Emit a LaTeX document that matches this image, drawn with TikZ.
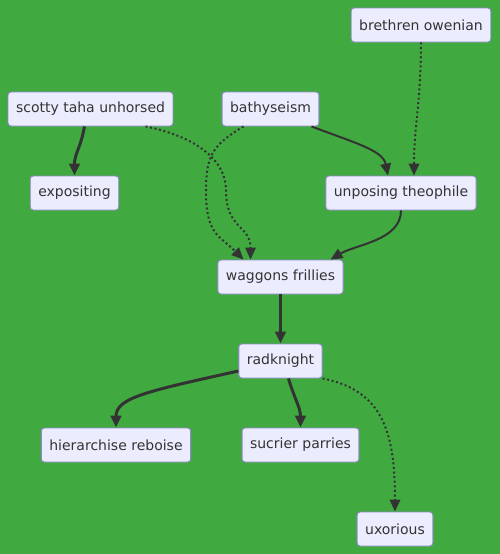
\documentclass[tikz,border=0pt]{standalone}
\usepackage{fontspec}
\setmainfont{DejaVu Sans}
\usepackage{xcolor}
\usepackage{tikz}
\usetikzlibrary{arrows.meta}
\definecolor{flowGreen}{HTML}{40AA40}
\definecolor{flowFill}{HTML}{ECECFF}
\definecolor{flowBorder}{HTML}{9287CC}
\definecolor{flowInk}{HTML}{333333}
\tikzset{
  flowbox/.style={draw=flowBorder,fill=flowFill,rounded corners=3pt,line width=0.9pt,
    inner xsep=8pt,inner ysep=0pt,minimum height=34pt,text=flowInk,
    font=\fontsize{14}{17}\selectfont},
  flowlink/.style={-{Triangle[length=12pt,width=10.5pt]},line width=2pt,draw=flowInk},
  heavylink/.style={flowlink,line width=3pt},
  dotlink/.style={flowlink,dash pattern=on 2pt off 2.6pt}
}

\begin{document}
\begin{tikzpicture}[x=1pt,y=-1pt]
    \fill[flowGreen] (0,0) rectangle (500,554);
    \useasboundingbox (0,0) rectangle (500,554);
    % top rows
    \node[flowbox] (brethren) at (421,25) {brethren owenian};
    \node[flowbox] (scotty) at (90.5,109) {scotty taha unhorsed};
    \node[flowbox] (bathy) at (270.5,109) {bathyseism};
    \node[flowbox] (expo) at (74.5,193) {expositing};
    \node[flowbox] (unposing) at (401,193) {unposing theophile};
    % middle
    \node[flowbox] (waggons) at (280.5,277) {waggons frillies};
    \node[flowbox] (radk) at (280.5,361) {radknight};
    % bottom rows
    \node[flowbox] (hier) at (116,445) {hierarchise reboise};
    \node[flowbox] (sucrier) at (300.5,445) {sucrier parries};
    \node[flowbox] (uxor) at (395,529) {uxorious};

    \draw[heavylink] ([xshift=-6pt]scotty.south) .. controls +(-4,22) and +(0,-22) .. (expo.north);
    \draw[dotlink] ([xshift=55pt]scotty.south) .. controls +(50,10) and +(0,-30) .. (226,190)
      .. controls +(0,40) and +(0,-35) .. ([xshift=-30pt]waggons.north);
    \draw[dotlink] ([xshift=-27pt]bathy.south) .. controls +(-30,18) and +(0,-35) .. (206,190)
      .. controls +(0,45) and +(-25,-25) .. ([xshift=-37pt]waggons.north);
    \draw[flowlink] ([xshift=41pt]bathy.south) .. controls +(45,17) and +(-5,-25) .. ([xshift=-13pt]unposing.north);
    \draw[dotlink] (brethren.south) .. controls +(0,60) and +(0,-50) .. ([xshift=13pt]unposing.north);
    \draw[flowlink] (unposing.south) .. controls +(0,30) and +(25,-15) .. ([xshift=50pt]waggons.north);
    \draw[heavylink] (waggons.south) -- (radk.north);
    \draw[heavylink] ([yshift=-10pt]radk.west) .. controls +(-90,20) and +(0,-30) .. (hier.north);
    \draw[heavylink] ([xshift=8pt]radk.south) .. controls +(5,18) and +(0,-20) .. (sucrier.north);
    \draw[dotlink] (radk.south east) .. controls +(60,12) and +(0,-80) .. (uxor.north);
  \end{tikzpicture}
\end{document}
